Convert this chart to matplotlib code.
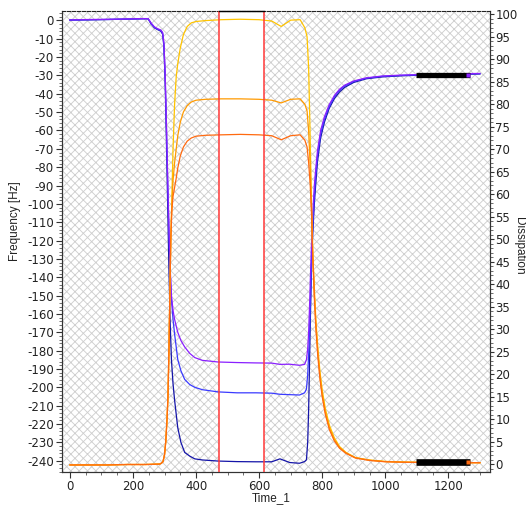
import matplotlib
matplotlib.use("Agg")
import matplotlib.pyplot as plt
from matplotlib.ticker import MultipleLocator

plt.rcParams['axes.unicode_minus'] = False
plt.rcParams['font.family'] = ['DejaVu Sans']
plt.rcParams['hatch.linewidth'] = 0.65

# ---------------- data ----------------
t_freq = [0, 60, 120, 180, 230, 248, 258, 268, 278, 288, 294, 298, 302, 306, 310,
          314, 318, 322, 327, 332, 342, 352, 364, 380, 396, 420, 470, 530, 590, 640,
          666, 697, 728, 744, 750, 754, 757, 760, 763, 766, 770, 775, 780, 785, 795,
          807, 822, 839, 855, 871, 900, 940, 990, 1050, 1120, 1200, 1300]

freq_purple = [0.3, 0.5, 0.6, 0.8, 1.0, 1.0, -1.5, -3.5, -4.5, -5.2, -6.5, -12, -28, -55, -85,
               -112, -135, -150, -158, -163, -170, -174.5, -178, -181.5, -183.8, -185.3, -186.2, -186.5, -186.7, -186.8,
               -187.5, -187.4, -188, -187.5, -185, -179, -170, -155, -138, -122, -105, -90, -80, -71, -60,
               -52.5, -46, -40.8, -37.5, -35.3, -33, -31.3, -30.3, -29.8, -29.5, -29.2, -28.9]

freq_blue = [0.2, 0.4, 0.5, 0.7, 0.9, 0.9, -1.8, -3.8, -4.8, -5.5, -7, -13, -30, -58, -88,
             -115, -138, -152, -163, -171, -184.8, -191, -195.7, -198.5, -200, -201.3, -202.5, -203, -203, -203.2,
             -203.8, -204, -204.2, -203, -201, -193, -182, -170, -152, -134, -113, -96, -84, -74, -62,
             -54, -47, -41.5, -38, -35.8, -33.3, -31.5, -30.5, -30, -29.6, -29.3, -29]

freq_darkblue = [0.2, 0.3, 0.5, 0.7, 0.9, 0.9, -2, -4, -5, -5.8, -7.5, -14, -33, -65, -100,
                 -135, -165, -185, -198, -207, -222, -230, -235.5, -237.5, -239, -239.6, -240.2, -240.5, -240.6, -240.6,
                 -239, -241, -241.4, -240.5, -239.5, -230, -212, -185, -158, -134, -116, -100, -88, -77, -64,
                 -55.5, -48, -42.5, -39, -36.5, -33.8, -31.8, -30.8, -30.2, -29.8, -29.5, -29.2]

t_diss = [0, 60, 120, 180, 240, 285, 290, 295, 300, 304, 308, 311, 314, 317, 320,
          323, 327, 332, 337, 342, 350, 360, 372, 385, 400, 430, 480, 540, 600, 640,
          670, 700, 730, 745, 752, 757, 762, 766, 770, 775, 780, 786, 793, 800, 810,
          823, 838, 855, 875, 905, 950, 1000, 1060, 1130, 1200, 1300]

diss_yellow = [-0.2, -0.2, -0.2, -0.1, -0.1, 0, 0.2, 0.5, 2, 5, 10, 15, 25, 38, 50,
               58, 70, 80, 86, 89, 92.5, 95.5, 97.3, 98.1, 98.4, 98.6, 98.8, 98.9, 98.8, 98.5,
               97.3, 98.7, 98.8, 97, 95, 88, 72, 58, 47, 39, 32, 26, 20.5, 16.5, 12.3,
               8.6, 5.9, 3.9, 2.6, 1.45, 0.9, 0.58, 0.45, 0.37, 0.32, 0.3]

diss_orange = [-0.2, -0.2, -0.2, -0.1, -0.1, 0, 0.2, 0.5, 2, 5, 10, 15, 25, 38, 50,
               57, 63, 67, 70, 73, 76, 78.3, 79.7, 80.5, 80.9, 81.1, 81.2, 81.2, 81.1, 80.9,
               80.3, 81.1, 81.2, 80, 78.5, 74, 66, 57, 47, 38, 31, 25, 19.5, 15.5, 11.5,
               8, 5.5, 3.7, 2.5, 1.4, 0.85, 0.55, 0.42, 0.35, 0.3, 0.3]

diss_darkorange = [-0.2, -0.2, -0.2, -0.1, -0.1, 0, 0.2, 0.5, 2, 5, 10, 15, 25, 38, 50,
                   56, 59.5, 61.5, 63.5, 65.8, 68.5, 70.5, 71.8, 72.5, 72.9, 73.1, 73.2, 73.3, 73.2, 73,
                   72.1, 73, 73.2, 72, 70.5, 67, 62, 56, 46, 37, 30, 24, 18.8, 15, 11,
                   7.6, 5.2, 3.5, 2.4, 1.35, 0.8, 0.5, 0.4, 0.33, 0.3, 0.3]

selection = [473, 615]          # red vertical markers
bar_time = [1096, 1270]         # black averaging bars
bar_freq = -29.6
bar_diss = 0.55
x_ticks = [0, 200, 400, 600, 800, 1000, 1200]

# ---------------- figure ----------------
fig = plt.figure(figsize=(5.26, 5.08), dpi=100)
ax = fig.add_axes([62/526, 1-471.7/508, (490-62)/526, (471.7-10.7)/508])
ax2 = ax.twinx()

xlim = (-25, 1332)

# hatched background outside selection
hc = '#cfcfcf'
ax.axvspan(xlim[0], selection[0], facecolor='none', hatch='xxxx', edgecolor=hc, lw=0, zorder=0)
ax.axvspan(selection[1], xlim[1], facecolor='none', hatch='xxxx', edgecolor=hc, lw=0, zorder=0)

lw = 0.9
ax.plot(t_freq, freq_darkblue, color='#1414a8', lw=lw, zorder=3)
ax.plot(t_freq, freq_blue, color='#3a3aff', lw=lw, zorder=3)
ax.plot(t_freq, freq_purple, color='#8a1fff', lw=lw, zorder=3)

ax2.plot(t_diss, diss_yellow, color='#ffc400', lw=lw, zorder=3)
ax2.plot(t_diss, diss_orange, color='#ff9a00', lw=lw, zorder=3)
ax2.plot(t_diss, diss_darkorange, color='#ff6a10', lw=lw, zorder=3)

for s in selection:
    ax2.axvline(s, color='#ff3838', lw=1.1, zorder=5)
# solid top border across the selected window
ax2.plot(selection, [1, 1], transform=ax2.get_xaxis_transform(), color='black',
         lw=1.0, clip_on=False, zorder=6)

ax.plot(bar_time, [bar_freq, bar_freq], color='black', lw=3.8, solid_capstyle='butt', zorder=6)
ax.plot([bar_time[1] - 7], [bar_freq], marker='s', ms=2.5, color='#8a1fff', mec='none', zorder=7)
ax2.plot(bar_time, [bar_diss, bar_diss], color='black', lw=4.8, solid_capstyle='butt', zorder=6)
ax2.plot([bar_time[1] - 7], [bar_diss], marker='s', ms=2.5, color='#ff6a10', mec='none', zorder=7)

# ticks
tc = '#222222'
ax.set_xticks(x_ticks)
ax.xaxis.set_minor_locator(MultipleLocator(50))
ax.yaxis.set_major_locator(MultipleLocator(10))
ax.yaxis.set_minor_locator(MultipleLocator(2))
ax2.yaxis.set_major_locator(MultipleLocator(5))
ax2.yaxis.set_minor_locator(MultipleLocator(1))
ax.set_xlim(*xlim)
ax.set_ylim(-246.0, 5.3)
ax2.set_ylim(-1.7, 100.8)

for a in (ax, ax2):
    a.tick_params(which='major', length=4, width=0.8, color='#333333', labelsize=8.5,
                  labelcolor=tc, pad=2)
    a.tick_params(which='minor', length=2, width=0.6, color='#555555')
ax2.tick_params(which='major', length=3, pad=0.8)

for sp in ['left', 'bottom', 'right']:
    ax.spines[sp].set_color('#333333')
    ax2.spines[sp].set_color('#333333')
ax2.spines['top'].set_linestyle((0, (3, 1.5)))
ax.spines['top'].set_visible(False)
ax2.spines['top'].set_color('#222222')

lab = ['Liberation Sans', 'DejaVu Sans']
fig.text(15/526, 1-221/508, 'Frequency [Hz]', rotation=90, ha='center', va='center',
         fontsize=8.5, color=tc, family=lab)
fig.text(519/526, 1-246/508, 'Dissipation', rotation=270, ha='center', va='center',
         fontsize=8.5, color=tc, family=lab)
fig.text(271/526, 1-498/508, 'Time_1', ha='center', va='center', fontsize=8.5, color=tc,
         family=lab)

fig.savefig('out.png', dpi=100)
